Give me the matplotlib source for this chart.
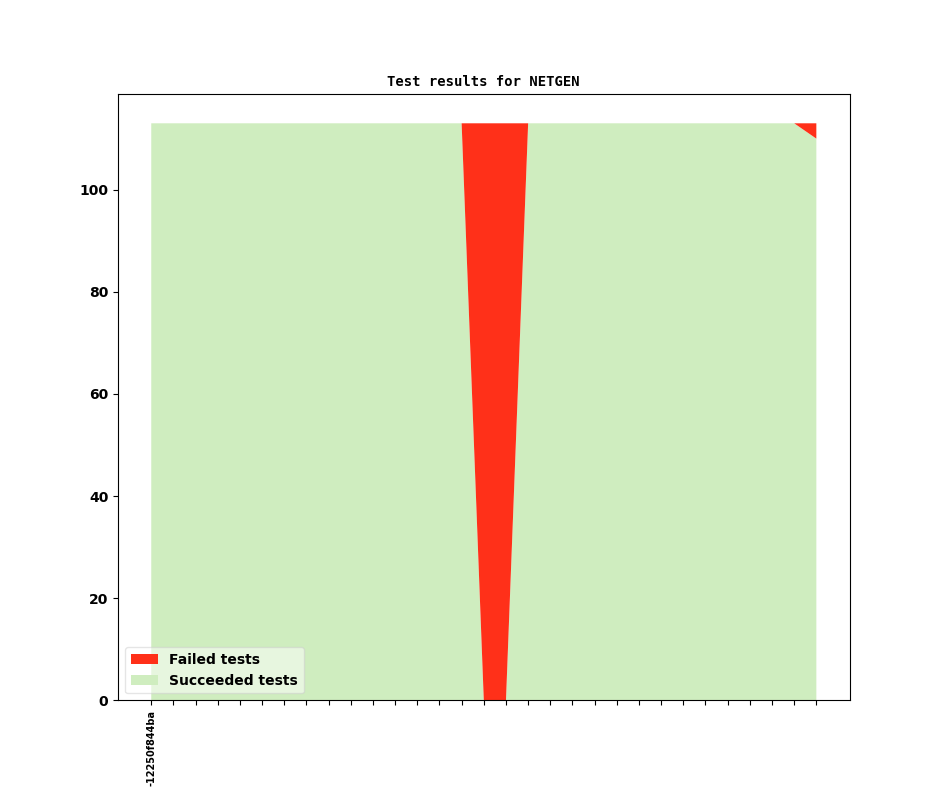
import numpy as np
import matplotlib
matplotlib.use("Agg")
import matplotlib.pyplot as plt

# one entry per revision; only the first carries a label
revisions = ["-12250f844ba"] + [""] * 30
succeeded = [113] * 15 + [0, 0] + [113] * 13 + [110]
failed = [0] * 15 + [113, 113] + [0] * 13 + [3]

RED = "#ff3019"
GREEN = "#cfedbf"

fig, ax = plt.subplots(figsize=(9.44, 7.87), dpi=100)
x = np.arange(len(revisions))
polys = ax.stackplot(x, succeeded, failed, colors=[GREEN, RED],
                     labels=["Succeeded tests", "Failed tests"])
ax.set_title("Test results for NETGEN", family="DejaVu Sans Mono",
             fontweight="bold", fontsize=10)
ax.set_xticks(x)
ax.set_xticklabels(revisions, rotation=90, fontsize=7, fontweight="bold")
for lbl in ax.get_yticklabels():
    lbl.set_fontweight("bold")
handles, labels = ax.get_legend_handles_labels()
ax.legend(handles[::-1], labels[::-1], loc="lower left", framealpha=0.5,
          prop={"weight": "bold"})
fig.savefig("out.png")
